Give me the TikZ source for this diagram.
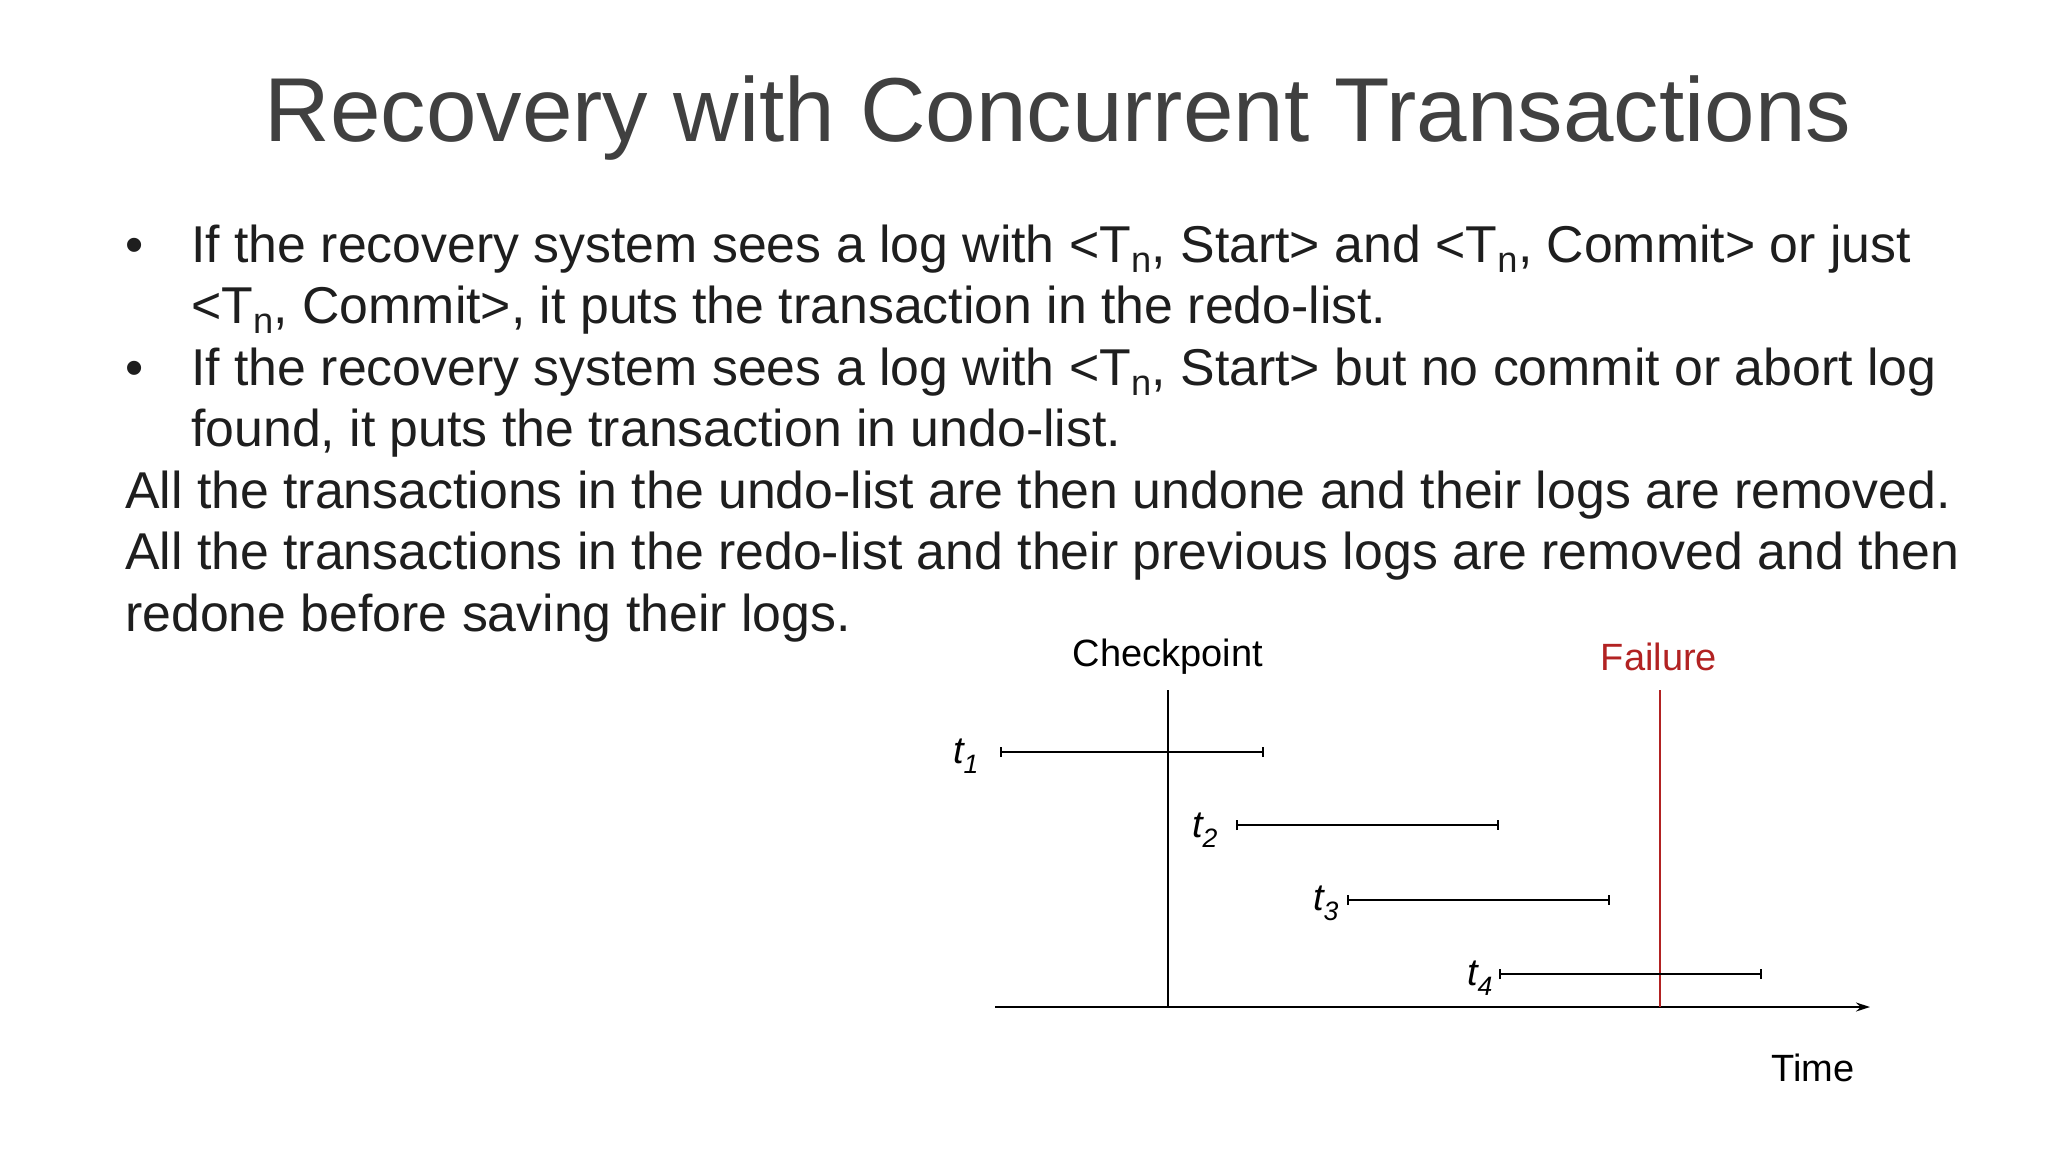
\documentclass[tikz,border=0pt]{standalone}
\usepackage{fontspec}
\setmainfont{Liberation Sans}
\usetikzlibrary{arrows.meta}
\definecolor{txt}{HTML}{404040}
\definecolor{btxt}{HTML}{1E1E1E}
\definecolor{fail}{HTML}{B22222}
\newcommand{\sbn}{\textsubscript{n}}
\begin{document}
\begin{tikzpicture}[x=1pt,y=1pt,
  body/.style={anchor=base west,inner sep=0pt,font=\fontsize{51.8}{60}\selectfont,text=btxt},
  lab/.style={inner sep=0pt,font=\fontsize{38}{44}\selectfont},
  tl/.style={inner sep=0pt,font=\fontsize{38}{44}\selectfont\itshape,anchor=center},
  span/.style={line width=1.6pt,{Bar[width=10pt]}-{Bar[width=10pt]}}]
\useasboundingbox (0,0) rectangle (2048,-1152);
\node[inner sep=0pt,font=\fontsize{90.8}{104}\selectfont,text=txt] (title) at (1058,-118) {Recovery with Concurrent Transactions};
\node[body] (b1) at (125,-262) {•};
\node[body] (l1) at (191,-262) {If the recovery system sees a log with <T\sbn, Start> and <T\sbn, Commit> or just};
\node[body] (l2) at (191,-323) {<T\sbn, Commit>, it puts the transaction in the redo-list.};
\node[body] (b2) at (125,-385) {•};
\node[body] (l3) at (191,-385) {If the recovery system sees a log with <T\sbn, Start> but no commit or abort log};
\node[body] (l4) at (191,-446) {found, it puts the transaction in undo-list.};
\node[body] (l5) at (125,-508) {All the transactions in the undo-list are then undone and their logs are removed.};
\node[body] (l6) at (125,-569) {All the transactions in the redo-list and their previous logs are removed and then};
\node[body] (l7) at (125,-631) {redone before saving their logs.};
% diagram
\coordinate (ax0) at (995,-1007);
\coordinate (ax1) at (1870,-1007);
\draw[line width=1.8pt,-{Stealth[length=14pt,width=9pt]}] (ax0) -- (ax1);
\node[lab] (cp) at (1168,-657) {Checkpoint};
\node[lab,text=fail] (fl) at (1659,-657) {Failure};
\node[lab] (time) at (1813,-1068) {Time};
\coordinate (cpt) at (1168,-690); \coordinate (cpb) at (1168,-1007);
\coordinate (flt) at (1660,-690); \coordinate (flb) at (1660,-1007);
\draw[line width=1.6pt] (cpt) -- (cpb);
\draw[line width=1.4pt,fail] (flt) -- (flb);
\coordinate (a1) at (1000,-752); \coordinate (e1) at (1264,-752);
\coordinate (a2) at (1236,-825); \coordinate (e2) at (1499,-825);
\coordinate (a3) at (1347,-900); \coordinate (e3) at (1610,-900);
\coordinate (a4) at (1499,-974); \coordinate (e4) at (1762,-974);
\draw[span] (a1) -- (e1);
\draw[span] (a2) -- (e2);
\draw[span] (a3) -- (e3);
\draw[span] (a4) -- (e4);
\node[tl] (t1) at (966,-756) {t\textsubscript{1}};
\node[tl] (t2) at (1205,-830) {t\textsubscript{2}};
\node[tl] (t3) at (1326,-903) {t\textsubscript{3}};
\node[tl] (t4) at (1480,-978) {t\textsubscript{4}};
\end{tikzpicture}
\end{document}
